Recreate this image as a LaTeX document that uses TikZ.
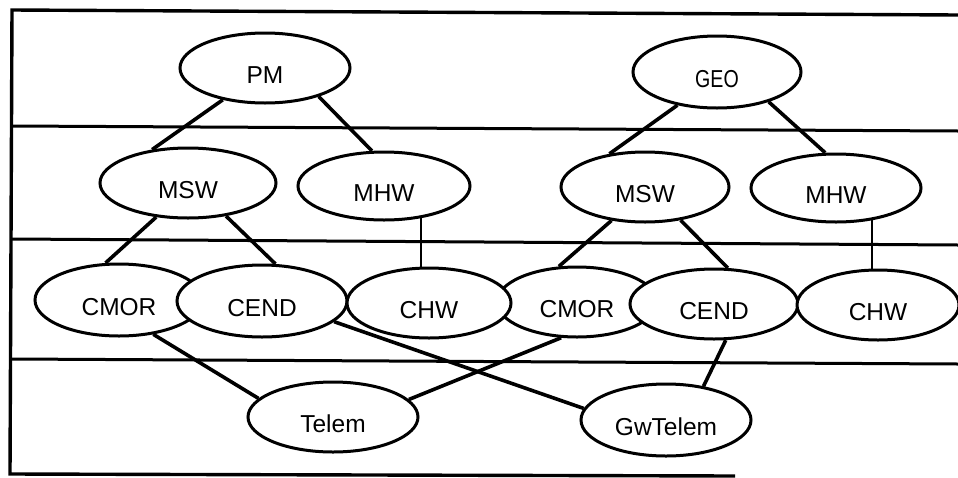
\documentclass[tikz,border=0pt]{standalone}
\usepackage{fontspec}
\setmainfont{Liberation Sans}
\usetikzlibrary{shapes.geometric}
\begin{document}
\begin{tikzpicture}[x=1pt,y=-1pt,
  obj/.style={ellipse, draw, line width=3pt, fill=white, inner sep=0pt,
    minimum width=170pt, minimum height=70pt,
    font=\fontsize{24.5}{29}\selectfont, text height=30pt, text depth=0pt},
  link/.style={line width=3.6pt},
  thinlink/.style={line width=1.8pt},
  band/.style={line width=3pt}]
\useasboundingbox (0,0) rectangle (958,477);
\clip (0,0) rectangle (958,477);

% frame and level separators
\draw[line width=3.4pt] (958,15) -- (12,10) -- (10,474) -- (735,476);
\draw[band] (12,126) -- (958,131);
\draw[band] (12,239) -- (958,245);
\draw[band] (12,359) -- (958,364);

% top level
\node[obj] (PM)  at (265,68) {PM};
\node[obj, minimum width=168pt, minimum height=72pt] (GEO) at (717,72) {\scalebox{0.8}[1]{GEO}};

% managers
\node[obj, minimum width=176pt] (MSWL) at (188,183) {MSW};
\node[obj, minimum width=172pt, minimum height=68pt] (MHWL) at (384,186) {MHW};
\node[obj, minimum width=168pt] (MSWR) at (645,187) {MSW};
\node[obj, minimum height=68pt] (MHWR) at (836,188) {MHW};

% components (CMOR first so neighbours overlap it)
\node[obj, minimum width=168pt, minimum height=72pt] (CMORL) at (119,300) {CMOR};
\node[obj, minimum width=160pt] (CMORR) at (577,302) {CMOR};
\node[obj, minimum height=72pt] (CENDL) at (262,301) {CEND};
\node[obj, minimum width=164pt] (CHWL) at (429,303) {CHW};
\node[obj, minimum width=168pt] (CENDR) at (714,304) {CEND};
\node[obj, minimum width=162pt] (CHWR) at (878,305) {CHW};

% telemetry
\node[obj] (Telem) at (333,417) {Telem};
\node[obj, minimum height=72pt] (GwTelem) at (666,420) {GwTelem};

% connectors
\draw[link] (PM.217) -- (MSWL.137);
\draw[link] (PM.332) -- (MHWL.109);
\draw[link] (MSWL.227) -- (CMORL.110);
\draw[link] (MSWL.319) -- (CENDL.70);
\draw[thinlink] (MHWL.319) -- (MHWL.319 |- CHWL.north);

\draw[link] (GEO.220) -- (MSWR.137);
\draw[link] (GEO.330) -- (MHWR.107);
\draw[link] (MSWR.225) -- (CMORR.117);
\draw[link] (MSWR.317) -- (CENDR.69);
\draw[thinlink] (MHWR.318) -- (MHWR.318 |- CHWR.north);

\draw[link] (CMORL.315) -- (Telem.166);
\draw[link] (CENDL.344) -- (GwTelem.172);
\draw[link] (CMORR.246) -- (Telem.13);
\draw[link] (CENDR.288) -- (GwTelem.42);
\end{tikzpicture}
\end{document}
